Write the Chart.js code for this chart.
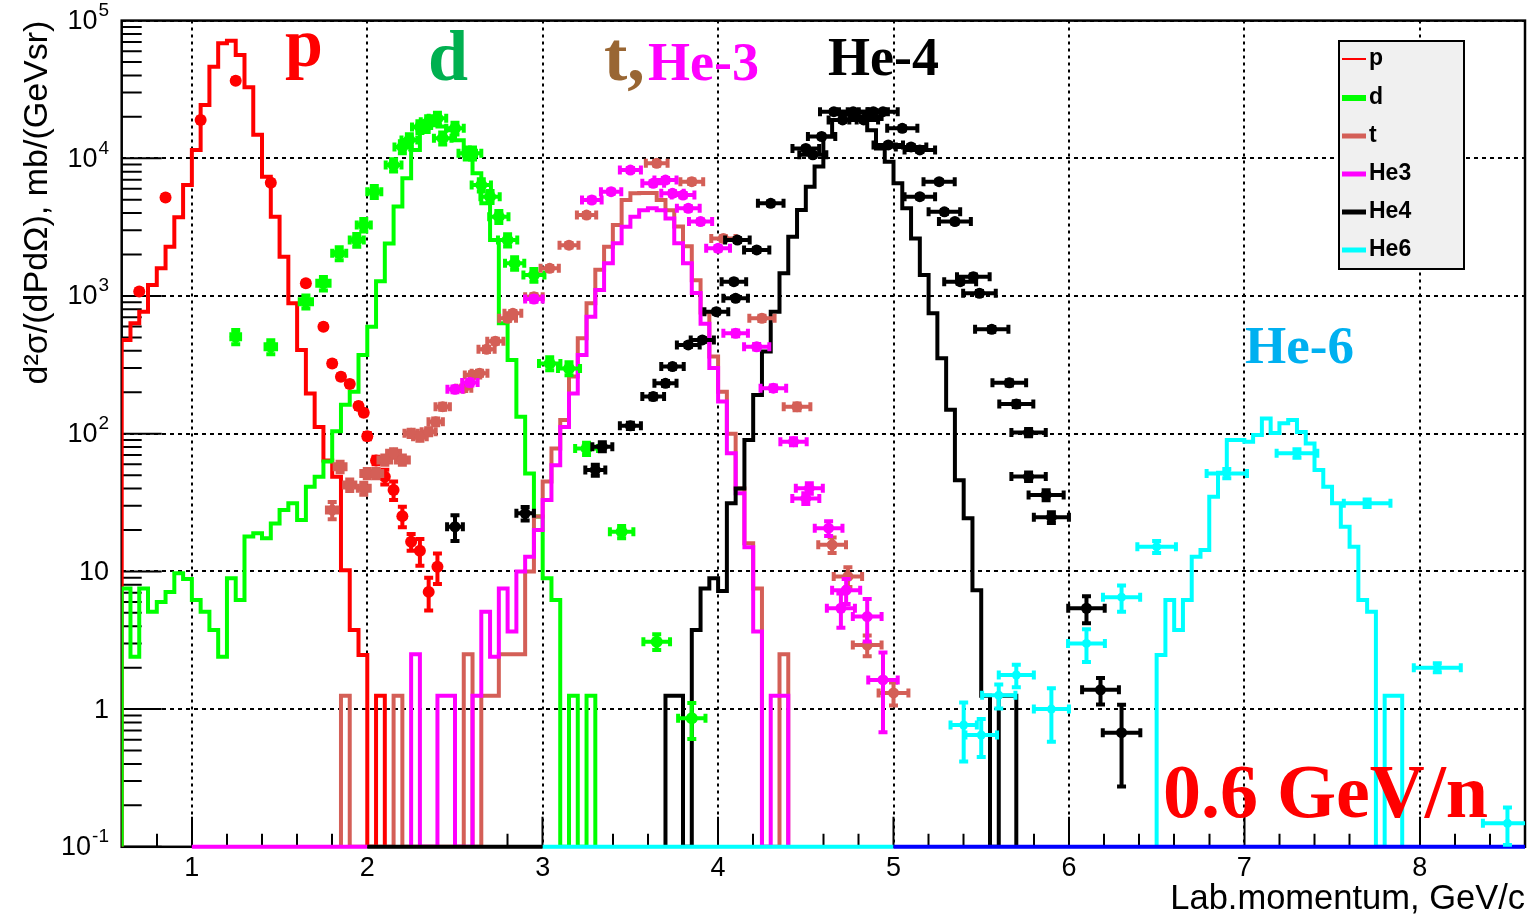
<!DOCTYPE html>
<html lang="en">
<head>
<meta charset="utf-8">
<title>Espectros de momento</title>
<script src="https://cdn.jsdelivr.net/npm/chart.js@4.4.1/dist/chart.umd.min.js"></script>
<style>
  html, body { margin: 0; padding: 0; background: #fff; }
  #box { width: 1534px; height: 919px; }
</style>
</head>
<body>
<div id="box"><canvas id="espectros" width="1534" height="919"></canvas></div>
<script>
// faixa dos eixos
const X_MIN = 0.6, X_MAX = 8.6;
const Y_MIN = 0.1, Y_MAX = 1e5;
const BIN = 0.05;

const xTickVals = [1, 2, 3, 4, 5, 6, 7, 8];
const yTickVals = [0.1, 1, 10, 100, 1000, 10000, 100000];
const yTickBase = ['10', '1', '10', '10', '10', '10', '10'];
const yTickExp  = ['-1', '', '', '2', '3', '4', '5'];

// histogramas simulados (bins de 0.05 GeV/c, primeiro bin começa em *Start)
const pStart = 0.6;
const pHist = [480, 634, 769, 1200, 1590, 2280, 3730, 6400, 11500, 24400, 46300, 68400, 71400, 56200,
  32800, 14800, 7350, 3770, 1930, 885, 405, 196, 112, 64, 48.7, 10.2, 3.75, 2.47, 0, 1.25];

const dStart = 0.6;
const dHist = [7.5, 2.4, 7.5, 5.1, 6.0, 7.1, 9.7, 8.8, 6.2, 5.1, 3.75, 2.4, 8.9, 6.2,
  17.9, 18.9, 17.4, 22.3, 27.9, 31.3, 23.6, 41.2, 48.7, 62.7, 104, 162, 202, 373, 598,
  1280, 2410, 4460, 7170, 11500, 15500, 17400, 17000, 16000, 13500, 11500, 7780, 4710, 2550,
  634, 343, 133, 51.5, 25, 8.9, 6.2, 0, 1.25, 0, 1.25];

const tStart = 1.85;
const tHist = [1.25, 0, 0, 0, 0, 0, 1.25, 0, 0, 0, 0, 0, 0, 0, 2.5, 0, 1.25, 1.25, 2.5, 2.5, 2.5,
  10, 25, 45, 78, 126, 260, 493, 885, 1550, 2280, 3280, 4980, 5570, 5600, 5600, 4980, 4200,
  3200, 2300, 1300, 760, 363, 202, 100, 40, 16, 7.5, 0, 0, 2.5];

const he3Start = 2.25;
const he3Hist = [2.5, 0, 0, 1.25, 1.25, 0, 0, 1.25, 5.1, 2.4, 7.5, 3.66, 10, 12.8, 20, 33, 59, 112,
  196, 373, 708, 1107, 1730, 2420, 3190, 3770, 4200, 4340, 4200, 3660, 2420, 1730, 1050, 630,
  300, 171, 72, 37, 15, 3.66, 0, 1.25, 1.25];

const he4Start = 3.7;
const he4Hist = [1.25, 1.25, 0, 3.75, 7.5, 8.9, 7.2, 31.3, 40, 90, 191, 395, 770, 1460, 2690,
  4210, 6220, 8710, 14400, 19000, 21000, 22000, 21500, 16000, 11800, 9440, 6580, 4340, 2620,
  1420, 748, 353, 149, 46, 24.3, 7.3, 1.25, 0, 1.25, 1.25];

const he6Start = 6.5;
const he6Hist = [2.47, 6.2, 3.75, 6.2, 12.8, 14.3, 34.9, 52, 90, 90, 87.5, 98, 129, 101, 119, 126,
  103, 85, 54.5, 41.2, 31.3, 21.1, 15.1, 6.2, 5.1, 0, 1.25, 1.25];

// pontos medidos: momento, seção de choque e erros
const pX = [0.70, 0.85, 1.05, 1.25, 1.45, 1.65, 1.75, 1.80, 1.85, 1.90, 1.95, 1.98, 2.00, 2.05,
  2.10, 2.15, 2.20, 2.25, 2.30, 2.35, 2.40];
const pY = [1080, 5200, 19000, 36600, 6650, 1240, 598, 324, 259, 230, 159, 142, 96, 64,
  48.7, 39, 25.2, 16.4, 14.1, 7.1, 10.8];
const pEy = [40, 200, 700, 1300, 250, 45, 22, 12, 10, 9, 7, 6, 5, 4, 6, 6, 4.3, 2.3, 3.1, 1.9, 2.7];

const dX = [1.25, 1.45, 1.65, 1.75, 1.84, 1.94, 1.98, 2.04, 2.15, 2.20, 2.24, 2.30, 2.35, 2.40,
  2.43, 2.50, 2.57, 2.60, 2.65, 2.70, 2.75, 2.80, 2.84, 2.95, 3.04, 3.15, 3.25, 3.45, 3.65, 3.85];
const dY = [506, 428, 910, 1236, 2040, 2550, 3280, 5720, 8930, 12100, 13600, 16900, 18400, 19500,
  14000, 16500, 10900, 10900, 6400, 5260, 3770, 2550, 1730, 1420, 324, 298, 78, 19.4, 3.09, 0.857];
const dEx = [0.025, 0.03, 0.035, 0.035, 0.04, 0.04, 0.04, 0.04, 0.045, 0.045, 0.045, 0.045, 0.045,
  0.05, 0.05, 0.05, 0.05, 0.05, 0.055, 0.055, 0.055, 0.055, 0.055, 0.06, 0.061, 0.063, 0.065,
  0.067, 0.076, 0.078];
const dEy = [60, 50, 100, 140, 220, 270, 340, 580, 900, 1200, 1350, 1650, 1800, 1900, 1400, 1600,
  1100, 1100, 650, 530, 380, 260, 180, 150, 35, 32, 8, 2, 0.4, 0.25];

const tX = [1.80, 1.845, 1.90, 1.98, 2.00, 2.05, 2.10, 2.15, 2.20, 2.25, 2.30, 2.35, 2.39, 2.43,
  2.55, 2.60, 2.64, 2.68, 2.73, 2.80, 2.83, 2.95, 3.04, 3.15, 3.25, 3.65, 3.85, 4.03, 4.25, 4.45,
  4.65, 4.74, 4.85, 5.00];
const tY = [27.9, 57.5, 42.4, 40.1, 51.5, 51.5, 64.4, 72, 64.4, 100.7, 95, 103.5, 122, 157, 214,
  267, 275, 410, 470, 689, 748, 988, 1590, 2340, 3870, 9200, 6760, 2620, 689, 157, 15.6, 9.2,
  2.92, 1.31];
const tEx = [0.03, 0.031, 0.032, 0.034, 0.034, 0.035, 0.036, 0.037, 0.037, 0.038, 0.039, 0.04,
  0.041, 0.041, 0.043, 0.044, 0.045, 0.046, 0.046, 0.048, 0.048, 0.05, 0.052, 0.054, 0.055,
  0.062, 0.065, 0.069, 0.072, 0.076, 0.079, 0.081, 0.082, 0.085];
const tEy = [4, 5, 4, 4, 4, 4, 5, 5, 5, 6, 6, 6, 7, 8, 10, 12, 12, 18, 20, 28, 30, 40, 60, 90, 140,
  330, 250, 100, 30, 9, 2, 1.5, 0.5, 0.25];

const he3X = [2.50, 2.585, 2.95, 3.28, 3.39, 3.50, 3.63, 3.70, 3.74, 3.80, 3.83, 3.90, 4.00, 4.10,
  4.22, 4.315, 4.43, 4.50, 4.52, 4.63, 4.70, 4.73, 4.85, 4.94];
const he3Y = [210, 235, 950, 4980, 5720, 8220, 6580, 6950, 5570, 5410, 4330, 3470, 2220, 536, 428,
  214, 87.5, 33.9, 40.1, 20.6, 5.4, 7.3, 4.7, 1.63];
const he3Ex = [0.043, 0.044, 0.05, 0.056, 0.058, 0.06, 0.062, 0.063, 0.064, 0.065, 0.065, 0.066,
  0.068, 0.07, 0.072, 0.073, 0.075, 0.077, 0.077, 0.079, 0.08, 0.08, 0.082, 0.084];
const he3Ey = [10, 11, 40, 180, 200, 280, 230, 240, 200, 190, 150, 120, 80, 25, 20, 10, 5, 3, 3.5,
  2.5, 1.5, 1.5, 1.6, 0.95];

const he4X = [2.50, 2.90, 3.30, 3.34, 3.50, 3.63, 3.70, 3.74, 3.83, 3.91, 3.99, 4.09, 4.10, 4.11,
  4.22, 4.30, 4.50, 4.54, 4.59, 4.66, 4.71, 4.77, 4.83, 4.85, 4.885, 4.94, 4.97, 5.05, 5.10, 5.15,
  5.15, 5.26, 5.29, 5.35, 5.38, 5.455, 5.49, 5.56, 5.66, 5.70, 5.77, 5.77, 5.87, 5.90, 6.10, 6.18,
  6.30];
const he4Y = [21.1, 26.4, 54.5, 80.5, 114, 186, 232, 307, 441, 480, 770, 1270, 962, 2550, 2160,
  4710, 11800, 10600, 14400, 21800, 19000, 21800, 19000, 20100, 21800, 21800, 12500, 16500, 12100,
  11500, 5260, 6760, 4090, 3470, 1270, 1380, 1047, 573, 234, 164, 102, 48.8, 35.9, 24.7, 5.4, 1.38,
  0.674];
const he4Ex = [0.045, 0.05, 0.057, 0.057, 0.06, 0.062, 0.063, 0.064, 0.065, 0.066, 0.068, 0.07,
  0.07, 0.07, 0.072, 0.073, 0.076, 0.077, 0.078, 0.079, 0.08, 0.081, 0.082, 0.082, 0.083, 0.084,
  0.084, 0.086, 0.087, 0.087, 0.087, 0.089, 0.09, 0.091, 0.091, 0.093, 0.093, 0.095, 0.096, 0.097,
  0.098, 0.098, 0.1, 0.1, 0.104, 0.105, 0.107];
const he4Ey = [4.5, 3, 5, 6, 6, 8, 9, 11, 15, 16, 25, 40, 30, 80, 70, 150, 350, 320, 420, 640, 560,
  640, 560, 600, 640, 640, 380, 500, 370, 350, 160, 200, 130, 110, 45, 50, 40, 22, 10, 8, 6, 3.5,
  3, 2.2, 1.2, 0.3, 0.4];

const he6X = [5.40, 5.50, 5.60, 5.70, 5.90, 6.10, 6.30, 6.50, 6.90, 7.30, 7.70, 8.10, 8.50];
const he6Y = [0.766, 0.648, 1.26, 1.77, 1.0, 3.0, 6.5, 15.1, 51.5, 72, 31.3, 2.0, 0.148];
const he6Ex = [0.075, 0.09, 0.095, 0.1, 0.1, 0.105, 0.106, 0.11, 0.115, 0.116, 0.133, 0.134, 0.14];
const he6Ey = [0.35, 0.2, 0.25, 0.33, 0.42, 0.8, 1.4, 1.5, 4, 5, 2, 0.15, 0.045];

// trechos coloridos sobre o eixo de baixo
const baseEdges = [1, 2, 3, 5, 8.6];
const baseCores = ['#ff00ff', '#000000', '#00ffff', '#0000ff'];

const nomes = ['p', 'd', 't', 'He3', 'He4', 'He6'];
const cores = ['#ff0000', '#00ff00', '#d45f57', '#ff00ff', '#000000', '#00ffff'];

// um ponto por borda esquerda de bin; 'before' segura o valor até a borda seguinte
function histPontos(inicio, valores) {
  const pts = [{ x: inicio, y: Y_MIN }];
  valores.forEach((v, i) => pts.push({ x: inicio + i * BIN, y: v > 0 ? v : Y_MIN }));
  pts.push({ x: inicio + valores.length * BIN, y: Y_MIN });
  return pts;
}

const histos = [[pStart, pHist], [dStart, dHist], [tStart, tHist], [he3Start, he3Hist],
  [he4Start, he4Hist], [he6Start, he6Hist]];
const medidas = [[pX, pY, null, pEy, 6], [dX, dY, dEx, dEy, 6], [tX, tY, tEx, tEy, 5.5],
  [he3X, he3Y, he3Ex, he3Ey, 5.5], [he4X, he4Y, he4Ex, he4Ey, 5.5], [he6X, he6Y, he6Ex, he6Ey, 4.5]];

const datasets = [];
histos.forEach(([ini, vals], k) => {
  datasets.push({
    label: nomes[k] + ' sim', data: histPontos(ini, vals), showLine: true, stepped: 'before',
    borderColor: cores[k], borderWidth: 4, pointRadius: 0, fill: false
  });
});
baseCores.forEach((c, k) => {
  datasets.push({
    label: 'base' + k, data: [{ x: baseEdges[k], y: Y_MIN }, { x: baseEdges[k + 1], y: Y_MIN }],
    showLine: true, borderColor: c, borderWidth: 4, pointRadius: 0, clip: false
  });
});
medidas.forEach(([xs, ys, ex, ey, r], k) => {
  datasets.push({
    label: nomes[k], data: xs.map((x, i) => ({ x, y: ys[i] })),
    pointRadius: r, pointBackgroundColor: cores[k], pointBorderWidth: 0,
    errX: ex, errY: ey, corErro: cores[k]
  });
});
// ordem de desenho: primeiro os histogramas, pontos por cima
datasets.forEach((ds, i) => { ds.order = datasets.length - i; });

const barrasErro = {
  id: 'barrasErro',
  beforeDatasetDraw(chart, args) {
    const ds = chart.data.datasets[args.index];
    if (!ds.errY) return;
    const { ctx, chartArea: a, scales: { x, y } } = chart;
    const cap = 4.5;
    ctx.save();
    ctx.beginPath();
    ctx.rect(a.left, a.top, a.right - a.left, a.bottom - a.top);
    ctx.clip();
    ctx.strokeStyle = ds.corErro;
    ctx.lineWidth = 4;
    ds.data.forEach((pt, i) => {
      const px = x.getPixelForValue(pt.x);
      const py = y.getPixelForValue(pt.y);
      ctx.beginPath();
      const ex = ds.errX ? ds.errX[i] : 0;
      if (ex > 0) {
        const x1 = x.getPixelForValue(pt.x - ex), x2 = x.getPixelForValue(pt.x + ex);
        ctx.moveTo(x1, py); ctx.lineTo(x2, py);
        ctx.moveTo(x1, py - cap); ctx.lineTo(x1, py + cap);
        ctx.moveTo(x2, py - cap); ctx.lineTo(x2, py + cap);
      }
      const ey = ds.errY[i];
      if (ey > 0) {
        const y1 = y.getPixelForValue(pt.y + ey);
        const y2 = y.getPixelForValue(Math.max(pt.y - ey, Y_MIN * 0.9));
        ctx.moveTo(px, y1); ctx.lineTo(px, y2);
        ctx.moveTo(px - cap, y1); ctx.lineTo(px + cap, y1);
        ctx.moveTo(px - cap, y2); ctx.lineTo(px + cap, y2);
      }
      ctx.stroke();
    });
    ctx.restore();
  }
};

// moldura, marcas internas e rótulos do eixo y
const moldura = {
  id: 'moldura',
  beforeDatasetsDraw(chart) {
    const { ctx, chartArea: a, scales: { x, y } } = chart;
    ctx.save();
    ctx.strokeStyle = '#000';
    ctx.lineWidth = 2;
    ctx.beginPath();
    for (let v = 0.8; v < X_MAX; v += 0.2) {
      const px = Math.round(x.getPixelForValue(v) * 2) / 2;
      const major = Math.abs(v - Math.round(v)) < 1e-6;
      ctx.moveTo(px, a.bottom);
      ctx.lineTo(px, a.bottom - (major ? 30 : 13));
    }
    for (let e = -1; e < 5; e++) {
      for (let m = 1; m <= 9; m++) {
        const py = y.getPixelForValue(m * Math.pow(10, e));
        ctx.moveTo(a.left, py);
        ctx.lineTo(a.left + (m === 1 ? 40 : 20), py);
      }
    }
    ctx.stroke();
    ctx.lineWidth = 2.5;
    ctx.strokeRect(a.left, a.top, a.right - a.left, a.bottom - a.top);
    ctx.restore();
  },
  afterDraw(chart) {
    const { ctx, scales: { y } } = chart;
    ctx.save();
    ctx.fillStyle = '#000';
    ctx.textBaseline = 'middle';
    yTickVals.forEach((v, i) => {
      const py = y.getPixelForValue(v);
      const direita = 109;
      ctx.font = '19px "Liberation Sans", Arial, sans-serif';
      const wExp = yTickExp[i] ? ctx.measureText(yTickExp[i]).width + 1 : 0;
      if (yTickExp[i]) {
        ctx.textAlign = 'right';
        ctx.fillText(yTickExp[i], direita, py - 10);
      }
      ctx.font = '27px "Liberation Sans", Arial, sans-serif';
      ctx.textAlign = 'right';
      ctx.fillText(yTickBase[i], direita - wExp, py + 1);
    });
    ctx.restore();
  }
};

const legendaTextos = {
  id: 'legendaTextos',
  afterDatasetsDraw(chart) {
    const { ctx } = chart;
    ctx.save();
    // caixa da legenda
    ctx.fillStyle = '#f0f0f0';
    ctx.fillRect(1339, 41, 125, 228);
    ctx.strokeStyle = '#000';
    ctx.lineWidth = 2;
    ctx.strokeRect(1339, 41, 125, 228);
    const linhaW = [2, 6, 5, 5, 5, 5];
    const ys = [59, 98, 136, 174, 212, 250];
    nomes.forEach((n, i) => {
      ctx.strokeStyle = cores[i];
      ctx.lineWidth = linhaW[i];
      ctx.beginPath();
      ctx.moveTo(1342, ys[i]);
      ctx.lineTo(1366, ys[i]);
      ctx.stroke();
      ctx.fillStyle = '#000';
      ctx.font = 'bold 23px "Liberation Sans", Arial, sans-serif';
      ctx.textBaseline = 'middle';
      ctx.textAlign = 'left';
      ctx.fillText(n, 1369, ys[i]);
    });

    // nomes das partículas
    const serif = '"Liberation Serif", "Times New Roman", serif';
    ctx.textBaseline = 'alphabetic';
    ctx.textAlign = 'left';
    const escreve = (txt, x, y, tam, cor) => {
      ctx.font = 'bold ' + tam + 'px ' + serif;
      ctx.fillStyle = cor;
      ctx.fillText(txt, x, y);
    };
    escreve('p', 285, 66, 68, '#ff0000');
    escreve('d', 428, 80, 72, '#00b050');
    escreve('t,', 604, 80, 70, '#996633');
    escreve('He-3', 648, 80, 54, '#ff00ff');
    escreve('He-4', 828, 75, 54, '#000000');
    escreve('He-6', 1245, 363, 53, '#00b0f0');
    escreve('0.6 GeV/n', 1163, 817, 76, '#ff0000');
    ctx.restore();
  }
};

const fonteEixo = '"Liberation Sans", Arial, sans-serif';
Chart.defaults.font.family = fonteEixo;

new Chart(document.getElementById('espectros'), {
  type: 'scatter',
  data: { datasets },
  options: {
    responsive: false,
    devicePixelRatio: 1,
    animation: false,
    events: [],
    layout: { padding: { top: 20.6, right: 9, left: 0, bottom: 0 } },
    plugins: { legend: { display: false }, tooltip: { enabled: false } },
    scales: {
      x: {
        type: 'linear', min: X_MIN, max: X_MAX,
        afterBuildTicks: s => { s.ticks = xTickVals.map(v => ({ value: v })); },
        afterFit: s => { s.height = 72.2; },
        ticks: { color: '#000', font: { size: 27 }, padding: 6, callback: v => String(v) },
        grid: { color: '#000', lineWidth: 2, drawTicks: false },
        border: { display: false, dash: [3, 4] },
        title: {
          display: true, text: 'Lab.momentum, GeV/c', align: 'end', color: '#000',
          font: { size: 34.5, lineHeight: 1 }, padding: { top: 0, bottom: 2 }
        }
      },
      y: {
        type: 'logarithmic', min: Y_MIN, max: Y_MAX,
        afterBuildTicks: s => { s.ticks = yTickVals.map(v => ({ value: v })); },
        afterFit: s => { s.width = 121.7; },
        ticks: { display: false },
        grid: { color: '#000', lineWidth: 2, drawTicks: false },
        border: { display: false, dash: [4, 4] },
        title: {
          display: true, text: 'd²σ/(dPdΩ), mb/(GeVsr)', align: 'end', color: '#000',
          font: { size: 34, lineHeight: 1 }, padding: { top: 21, bottom: 0 }
        }
      }
    }
  },
  plugins: [barrasErro, moldura, legendaTextos]
});
</script>
</body>
</html>
